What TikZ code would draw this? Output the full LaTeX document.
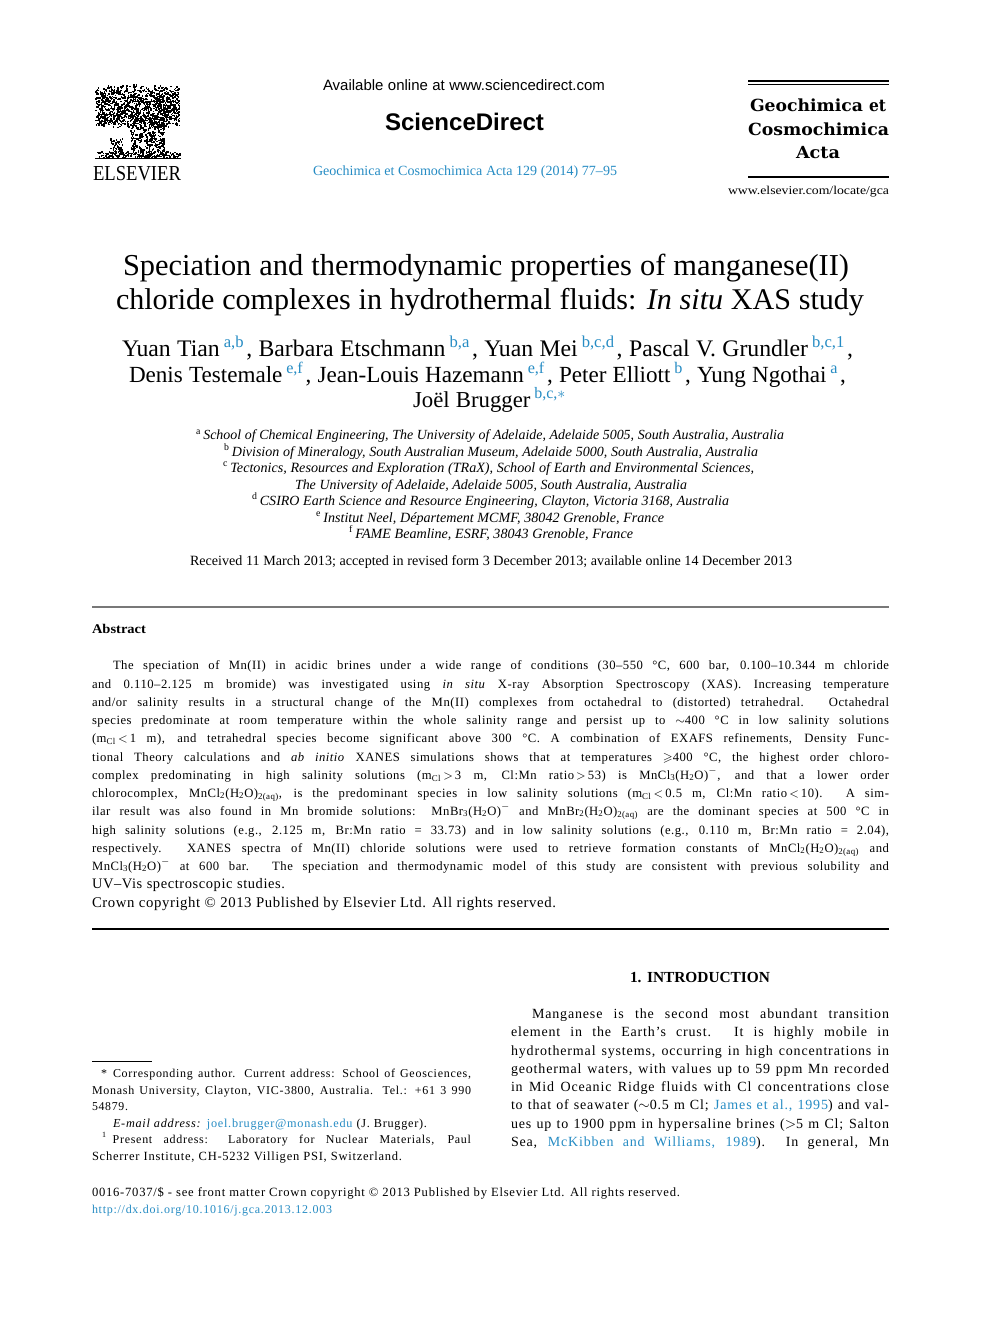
\documentclass[tikz,border=0pt]{standalone}
\usepackage{amssymb}
\usepackage{fontspec}
\usepackage{graphicx}
\setmainfont{Liberation Serif}
\newfontfamily\sansf{Liberation Sans}
\newfontfamily\jrnf{DejaVu Serif}
\newfontfamily\absf[LetterSpace=4]{Liberation Serif}
\newfontfamily\widef[LetterSpace=6]{Liberation Serif}
\definecolor{linkc}{RGB}{38,140,196}
\definecolor{rulegray}{RGB}{120,120,120}
\newlength\pxu \setlength\pxu{0.75pt}
\newlength\tgtw
\newsavebox\lnbox
\makeatletter
% scale a single word horizontally to a width
\newcommand\sfit[2]{\setlength\tgtw{#1\pxu}\sbox\lnbox{#2}\pgfmathsetmacro\sxf{\the\tgtw/\the\wd\lnbox}\scalebox{\sxf}[1]{\usebox\lnbox}}
% set a line at the font size that gives a width
\newcommand\fitw[3]{\setlength\tgtw{#1\pxu}\fontsize{#2pt}{#2pt}\selectfont\sbox\lnbox{#3}\pgfmathsetmacro\nsz{0.997*#2*\the\tgtw/\the\wd\lnbox}\fontsize{\nsz pt}{\nsz pt}\selectfont\makebox[\tgtw][s]{#3}}
% justify a line to a width
\newcommand\justw[2]{\setlength\tgtw{#1\pxu}\sbox\lnbox{#2}\ifdim\wd\lnbox<\tgtw\makebox[\tgtw][s]{#2}\else\pgfmathsetmacro\nsz{0.997*\f@size*\the\tgtw/\the\wd\lnbox}\fontsize{\nsz pt}{\nsz pt}\selectfont\makebox[\tgtw][s]{#2}\fi}
\makeatother
\newcommand\fsz[1]{\fontsize{#1}{#1}\selectfont}
\newcommand\sps[1]{\textsuperscript{\color{linkc}#1}\kern1.5pt}
\newcommand\sbs[1]{\textsubscript{#1}}
\newcommand\spm{\textsuperscript{$-$}}
\newcommand\afs[1]{\textsuperscript{\upshape #1}}
\begin{document}
\begin{tikzpicture}[x=0.75pt,y=-0.75pt,
  L/.style={inner sep=0pt,outer sep=0pt,anchor=base west}]
\useasboundingbox (0,0) rectangle (992,1323);
\fill[white] (0,0) rectangle (992,1323);
% ---------- Elsevier tree logo ----------
\pgfmathsetseed{4711}
\foreach \i in {1,...,1250}{
  \pgfmathsetmacro\xx{95+84*rnd}
  \pgfmathsetmacro\yy{84+36*rnd+8*rnd}
  \fill (\xx,\yy) rectangle ++(1.5,1.5);
}
\foreach \i in {1,...,380}{
  \pgfmathsetmacro\xx{130+34*rnd}
  \pgfmathsetmacro\yy{118+38*rnd}
  \fill (\xx,\yy) rectangle ++(1.5,1.5);
}
\foreach \i in {1,...,70}{
  \pgfmathsetmacro\xx{110+12*rnd}
  \pgfmathsetmacro\yy{138+18*rnd}
  \fill (\xx,\yy) rectangle ++(1.5,1.5);
}
\foreach \i in {1,...,180}{
  \pgfmathsetmacro\xx{95+85*rnd}
  \pgfmathsetmacro\yy{151+7*rnd}
  \fill (\xx,\yy) rectangle ++(1.5,1.5);
}
\draw[line width=0.8pt] (95,158.5) -- (181,158.5);
\node[L] (els) at (93,181) {\fsz{16pt}\sfit{88}{ELSEVIER}};
% ---------- header centre ----------
\node[L] (avail) at (323,91) {\sansf\fitw{282}{10}{Available online at www.sciencedirect.com}};
\node[L] (sd) at (385,131) {\sansf\bfseries\fsz{18pt}\sfit{159}{ScienceDirect}};
\node[L] (jref) at (313,176) {\color{linkc}\fitw{304}{10}{Geochimica et Cosmochimica Acta 129 (2014) 77–95}};
% ---------- header right ----------
\draw[line width=1.3pt] (748,81) -- (889,81);
\draw[line width=0.7pt] (748,84) -- (889,84);
\node[L] (j1) at (750,112) {\jrnf\bfseries\fsz{12.5pt}\sfit{113}{Geochimica}\hspace{6\pxu}\sfit{17}{et}};
\node[L] (j2) at (748,136) {\jrnf\bfseries\fsz{12.5pt}\sfit{141}{Cosmochimica}};
\node[L] (j3) at (796,159) {\jrnf\bfseries\fsz{12.5pt}\sfit{44}{Acta}};
\draw[line width=1.3pt] (748,177) -- (889,177);
\node[L] (www) at (728,195) {\fsz{9pt}\sfit{161}{www.elsevier.com/locate/gca}};
% ---------- title ----------
\node[L] (ti1) at (123,276) {\fitw{726}{22}{Speciation and thermodynamic properties of manganese(II)}};
\node[L] (ti2) at (116,309) {\fitw{748}{22}{chloride complexes in hydrothermal fluids: \textit{In situ} XAS study}};
% ---------- authors ----------
\node[L] (au1) at (122,356) {\fitw{731}{16}{Yuan Tian\,\sps{a,b}, Barbara Etschmann\,\sps{b,a}, Yuan Mei\,\sps{b,c,d}, Pascal V. Grundler\,\sps{b,c,1},}};
\node[L] (au2) at (129,382) {\fitw{717}{16}{Denis Testemale\,\sps{e,f}, Jean-Louis Hazemann\,\sps{e,f}, Peter Elliott\,\sps{b}, Yung Ngothai\,\sps{a},}};
\node[L] (au3) at (413,407) {\fitw{155}{16}{Joël Brugger\,\sps{b,c,$\ast$}}};
% ---------- affiliations ----------
\node[L] (afa) at (196,439) {\itshape\fitw{588}{9.5}{\afs{a}\,School of Chemical Engineering, The University of Adelaide, Adelaide 5005, South Australia, Australia}};
\node[L] (afb) at (224,456) {\itshape\fitw{534}{9.5}{\afs{b}\,Division of Mineralogy, South Australian Museum, Adelaide 5000, South Australia, Australia}};
\node[L] (afc) at (223,472) {\itshape\fitw{531}{9.5}{\afs{c}\,Tectonics, Resources and Exploration (TRaX), School of Earth and Environmental Sciences,}};
\node[L] (afc2) at (295,489) {\itshape\fitw{392}{9.5}{The University of Adelaide, Adelaide 5005, South Australia, Australia}};
\node[L] (afd) at (252,505) {\itshape\fitw{477}{9.5}{\afs{d}\,CSIRO Earth Science and Resource Engineering, Clayton, Victoria 3168, Australia}};
\node[L] (afe) at (316,522) {\itshape\fitw{348}{9.5}{\afs{e}\,Institut Neel, Département MCMF, 38042 Grenoble, France}};
\node[L] (aff) at (349,538) {\itshape\fitw{284}{9.5}{\afs{f}\,FAME Beamline, ESRF, 38043 Grenoble, France}};
\node[L] (recv) at (190,565) {\fitw{602}{9.5}{Received 11 March 2013; accepted in revised form 3 December 2013; available online 14 December 2013}};
% ---------- abstract ----------
\draw[rulegray,line width=1.5pt] (92,607) -- (889,607);
\node[L] (abh) at (92,633) {\fsz{10pt}\bfseries\sfit{54}{Abstract}};
\begin{scope}[every node/.append style={font=\absf\fsz{9.5pt}}]
\node[L] (ab1) at (113,669) {\justw{776}{The speciation of Mn(II) in acidic brines under a wide range of conditions (30–550~°C, 600 bar, 0.100–10.344 m chloride}};
\node[L] (ab2) at (92,688) {\justw{797}{and 0.110–2.125 m bromide) was investigated using \textit{in situ} X-ray Absorption Spectroscopy (XAS). Increasing temperature}};
\node[L] (ab3) at (92,706) {\justw{797}{and/or salinity results in a structural change of the Mn(II) complexes from octahedral to (distorted) tetrahedral. Octahedral}};
\node[L] (ab4) at (92,724) {\justw{797}{species predominate at room temperature within the whole salinity range and persist up to $\sim$400~°C in low salinity solutions}};
\node[L] (ab5) at (92,742) {\justw{797}{(m\sbs{Cl}\,$<$\,1 m), and tetrahedral species become significant above 300~°C. A combination of EXAFS refinements, Density Func-}};
\node[L] (ab6) at (92,761) {\justw{797}{tional Theory calculations and \textit{ab initio} XANES simulations shows that at temperatures $\geqslant$400~°C, the highest order chloro-}};
\node[L] (ab7) at (92,779) {\justw{797}{complex predominating in high salinity solutions (m\sbs{Cl}\,$>$\,3 m, Cl:Mn ratio\,$>$\,53) is MnCl\sbs{3}(H\sbs{2}O)\spm, and that a lower order}};
\node[L] (ab8) at (92,797) {\justw{797}{chlorocomplex, MnCl\sbs{2}(H\sbs{2}O)\sbs{2(aq)}, is the predominant species in low salinity solutions (m\sbs{Cl}\,$<$\,0.5 m, Cl:Mn ratio\,$<$\,10). A sim-}};
\node[L] (ab9) at (92,815) {\justw{797}{ilar result was also found in Mn bromide solutions: MnBr\sbs{3}(H\sbs{2}O)\spm{} and MnBr\sbs{2}(H\sbs{2}O)\sbs{2(aq)} are the dominant species at 500~°C in}};
\node[L] (ab10) at (92,834) {\justw{797}{high salinity solutions (e.g., 2.125 m, Br:Mn ratio = 33.73) and in low salinity solutions (e.g., 0.110 m, Br:Mn ratio = 2.04),}};
\node[L] (ab11) at (92,852) {\justw{797}{respectively. XANES spectra of Mn(II) chloride solutions were used to retrieve formation constants of MnCl\sbs{2}(H\sbs{2}O)\sbs{2(aq)} and}};
\node[L] (ab12) at (92,870) {\justw{797}{MnCl\sbs{3}(H\sbs{2}O)\spm{} at 600 bar. The speciation and thermodynamic model of this study are consistent with previous solubility and}};
\node[L] (ab13) at (92,888) {\fitw{193}{9.5}{UV–Vis spectroscopic studies.}};
\node[L] (ab14) at (92,907) {\fitw{464}{9.5}{Crown copyright \textcopyright\ 2013 Published by Elsevier Ltd. All rights reserved.}};
\end{scope}
\draw[line width=0.9pt] (92,929) -- (889,929);
% ---------- introduction ----------
\node[L] (inh) at (630,982) {\bfseries\fitw{140}{10}{1. INTRODUCTION}};
\begin{scope}[every node/.append style={font=\widef\fsz{10.5pt}}]
\node[L] (in1) at (532,1018) {\justw{357}{Manganese is the second most abundant transition}};
\node[L] (in2) at (511,1036) {\justw{378}{element in the Earth’s crust. It is highly mobile in}};
\node[L] (in3) at (511,1055) {\justw{378}{hydrothermal systems, occurring in high concentrations in}};
\node[L] (in4) at (511,1073) {\justw{378}{geothermal waters, with values up to 59 ppm Mn recorded}};
\node[L] (in5) at (511,1091) {\justw{378}{in Mid Oceanic Ridge fluids with Cl concentrations close}};
\node[L] (in6) at (511,1109) {\justw{378}{to that of seawater ($\sim$0.5 m Cl; {\color{linkc}James et al., 1995}) and val-}};
\node[L] (in7) at (511,1128) {\justw{378}{ues up to 1900 ppm in hypersaline brines ($>$5 m Cl; Salton}};
\node[L] (in8) at (511,1146) {\justw{378}{Sea, {\color{linkc}McKibben and Williams, 1989}). In general, Mn}};
\end{scope}
% ---------- footnotes ----------
\draw[line width=0.6pt] (92,1061) -- (152,1061);
\begin{scope}[every node/.append style={font=\widef\fsz{9pt}}]
\node[L] (fn1) at (101,1077) {\justw{370}{*\enspace Corresponding author. Current address: School of Geosciences,}};
\node[L] (fn2) at (92,1094) {\justw{379}{Monash University, Clayton, VIC-3800, Australia. Tel.: +61 3 990}};
\node[L] (fn3) at (92,1110) {\sfit{36}{54879.}};
\node[L] (fn4) at (113,1127) {\fitw{314}{9}{\textit{E-mail address:} {\color{linkc}joel.brugger@monash.edu} (J. Brugger).}};
\node[L] (fn5) at (102,1143) {\justw{369}{\textsuperscript{1}\enspace Present address: Laboratory for Nuclear Materials, Paul}};
\node[L] (fn6) at (92,1160) {\fitw{310}{9}{Scherrer Institute, CH-5232 Villigen PSI, Switzerland.}};
\node[L] (bt1) at (92,1196) {\fitw{588}{9}{0016-7037/\$ - see front matter Crown copyright \textcopyright\ 2013 Published by Elsevier Ltd. All rights reserved.}};
\node[L] (bt2) at (92,1213) {\color{linkc}\sfit{240}{http://dx.doi.org/10.1016/j.gca.2013.12.003}};
\end{scope}
\end{tikzpicture}
\end{document}
